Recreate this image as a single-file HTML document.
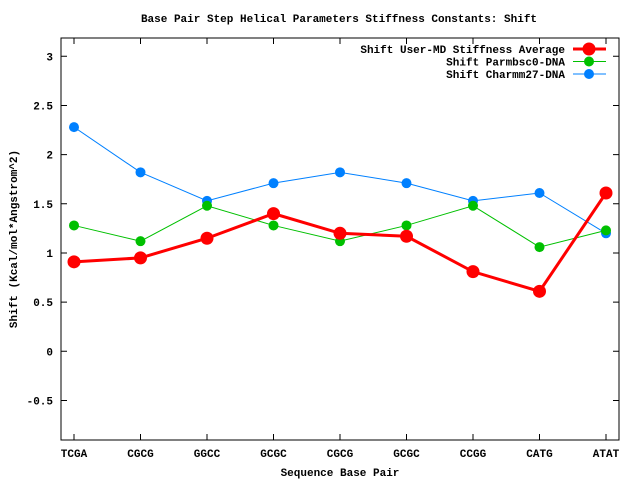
<!DOCTYPE html>
<html><head><meta charset="utf-8"><style>
html,body{margin:0;padding:0;background:#fff;}
svg{display:block;font-family:"Liberation Mono",monospace;font-weight:bold;}
</style></head><body>
<svg id="chart" width="640" height="480" xmlns="http://www.w3.org/2000/svg">
<text x="339" y="22" font-size="11" text-anchor="middle">Base Pair Step Helical Parameters Stiffness Constants: Shift</text>
<text x="340" y="476" font-size="11" text-anchor="middle">Sequence Base Pair</text>
<text transform="translate(17,239) rotate(-90)" font-size="11" text-anchor="middle">Shift (Kcal/mol*Angstrom^2)</text>
<g id="axes"></g>
<g id="series"></g>
<g id="legend"></g>
</svg>
<script>
const categories=["TCGA","CGCG","GGCC","GCGC","CGCG","GCGC","CCGG","CATG","ATAT"];
const userAvg=[0.91,0.95,1.15,1.40,1.20,1.17,0.81,0.61,1.61];
const parmbsc0=[1.28,1.12,1.48,1.28,1.12,1.28,1.48,1.06,1.23];
const charmm27=[2.28,1.82,1.53,1.71,1.82,1.71,1.53,1.61,1.20];
const yTicks=[-0.5,0,0.5,1,1.5,2,2.5,3];
const yTickLabels=["-0.5","0","0.5","1","1.5","2","2.5","3"];
const seriesNames=["Shift User-MD Stiffness Average","Shift Parmbsc0-DNA","Shift Charmm27-DNA"];

const NS="http://www.w3.org/2000/svg";
const L=61,R=619,T=38,B=440;
function xs(i){return 74+i*66.5;}
function ys(v){return 351.3-98.33*v;}
function mk(tag,attrs,parent){const e=document.createElementNS(NS,tag);for(const k in attrs)e.setAttribute(k,attrs[k]);parent.appendChild(e);return e;}
const axes=document.getElementById('axes');
const frame=mk('rect',{x:L,y:T,width:R-L,height:B-T,fill:'none',stroke:'#000','stroke-width':1},axes);


yTicks.forEach((v,i)=>{
  const y=ys(v);
  const t=mk('path',{d:`M${L},${y}h6M${R},${y}h-6`,stroke:'#000'},axes);
  
  
  const lb=mk('text',{x:L-8,y:y+4,'font-size':11,'text-anchor':'end'},axes);
  lb.textContent=yTickLabels[i];
  
  
});
categories.forEach((c,i)=>{
  const x=xs(i);
  const t=mk('path',{d:`M${x},${B}v-6M${x},${T}v6`,stroke:'#000'},axes);
  
  
  const lb=mk('text',{x:x,y:B+17,'font-size':11,'text-anchor':'middle'},axes);
  lb.textContent=c;
  
  
});
const sg=document.getElementById('series');
const defs=[[userAvg,'#ff0000',3,6.5,'series-user-md'],[parmbsc0,'#00c000',1,5,'series-parmbsc0'],[charmm27,'#0080ff',1,5,'series-charmm27']];
[defs[2],defs[1],defs[0]].forEach(([vals,col,w,r,name])=>{
  const g=mk('g',{},sg);
  
  
  const line=mk('polyline',{points:vals.map((v,i)=>xs(i)+','+ys(v)).join(' '),fill:'none',stroke:col,'stroke-width':w},g);
  
  
  vals.forEach((v,i)=>{
    const p=mk('circle',{cx:xs(i),cy:ys(v),r:r,fill:col},g);
    
    
  });
});
const lg=document.getElementById('legend');
defs.forEach(([vals,col,w,r,name],k)=>{
  const y=49+k*12.5;
  const g=mk('g',{},lg);
  
  
  const tx=mk('text',{x:565,y:y+4,'font-size':11,'text-anchor':'end'},g);
  tx.textContent=seriesNames[k];
  mk('line',{x1:573,x2:606,y1:y,y2:y,stroke:col,'stroke-width':w},g);
  mk('circle',{cx:589,cy:y,r:r,fill:col},g);
});
</script>
</body></html>
